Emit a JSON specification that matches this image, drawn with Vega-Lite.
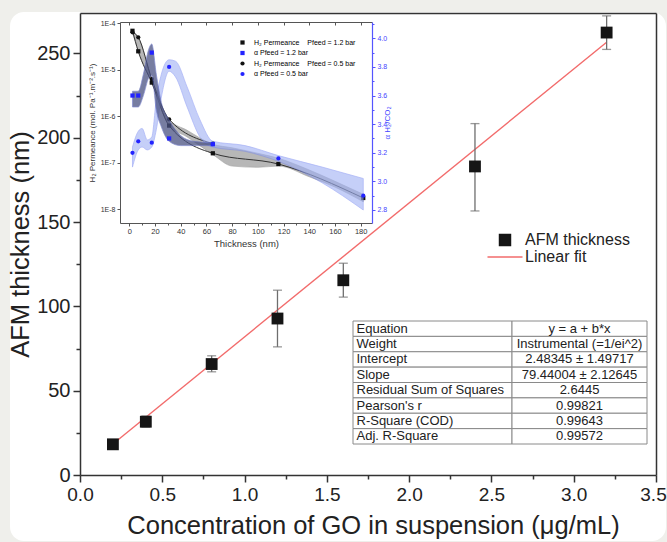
{
  "$schema": "https://vega.github.io/schema/vega-lite/v6.json",
  "width": 576,
  "height": 462,
  "autosize": {"type": "none"},
  "padding": {"left": 80, "top": 13, "right": 11, "bottom": 67},
  "background": "#efefeb",
  "config": {
    "view": {"stroke": null},
    "font": "Liberation Sans",
    "axis": {"zindex": 1, "grid": false, "domainColor": "#333", "tickColor": "#333", "labelColor": "#222", "titleColor": "#222", "titleFontWeight": "normal", "labelFont": "Liberation Sans", "titleFont": "Liberation Sans", "labelOverlap": false, "labelFlush": false}
  },
  "datasets": {
    "afm": [
      {"c": 0.2, "t": 18.2, "lo": 17.0, "hi": 19.4},
      {"c": 0.4, "t": 31.6, "lo": 28.4, "hi": 35.0},
      {"c": 0.8, "t": 65.8, "lo": 61.2, "hi": 70.7},
      {"c": 1.2, "t": 92.8, "lo": 76.0, "hi": 109.6},
      {"c": 1.6, "t": 115.5, "lo": 105.5, "hi": 125.6},
      {"c": 2.4, "t": 183.0, "lo": 156.6, "hi": 208.4},
      {"c": 3.2, "t": 262.4, "lo": 252.4, "hi": 272.3}
    ],
    "fit": [{"c": 0.2, "y": 18.37}, {"c": 3.2, "y": 256.69}],
    "tbl": [
      {"row": 1, "label": "Equation", "value": "y = a + b*x"},
      {"row": 2, "label": "Weight", "value": "Instrumental (=1/ei^2)"},
      {"row": 3, "label": "Intercept", "value": "2.48345 ± 1.49717"},
      {"row": 4, "label": "Slope", "value": "79.44004 ± 2.12645"},
      {"row": 5, "label": "Residual Sum of Squares", "value": "2.6445"},
      {"row": 6, "label": "Pearson's r", "value": "0.99821"},
      {"row": 7, "label": "R-Square (COD)", "value": "0.99643"},
      {"row": 8, "label": "Adj. R-Square", "value": "0.99572"}
    ],
    "perm": [
      {"t": 2.5, "p": 6.9e-5, "s": "H₂ Permeance\u00a0\u00a0\u00a0\u00a0Pfeed = 1.2 bar"},
      {"t": 7, "p": 2.5e-5, "s": "H₂ Permeance\u00a0\u00a0\u00a0\u00a0Pfeed = 1.2 bar"},
      {"t": 17.5, "p": 5.3e-6, "s": "H₂ Permeance\u00a0\u00a0\u00a0\u00a0Pfeed = 1.2 bar"},
      {"t": 31, "p": 6.3e-7, "s": "H₂ Permeance\u00a0\u00a0\u00a0\u00a0Pfeed = 1.2 bar"},
      {"t": 65, "p": 1.6e-7, "s": "H₂ Permeance\u00a0\u00a0\u00a0\u00a0Pfeed = 1.2 bar"},
      {"t": 116, "p": 9.4e-8, "s": "H₂ Permeance\u00a0\u00a0\u00a0\u00a0Pfeed = 1.2 bar"},
      {"t": 182, "p": 1.75e-8, "s": "H₂ Permeance\u00a0\u00a0\u00a0\u00a0Pfeed = 1.2 bar"},
      {"t": 2.5, "p": 6.4e-5, "s": "H₂ Permeance\u00a0\u00a0\u00a0\u00a0Pfeed = 0.5 bar"},
      {"t": 7, "p": 5.0e-5, "s": "H₂ Permeance\u00a0\u00a0\u00a0\u00a0Pfeed = 0.5 bar"},
      {"t": 17.5, "p": 6.3e-6, "s": "H₂ Permeance\u00a0\u00a0\u00a0\u00a0Pfeed = 0.5 bar"},
      {"t": 31, "p": 8.6e-7, "s": "H₂ Permeance\u00a0\u00a0\u00a0\u00a0Pfeed = 0.5 bar"},
      {"t": 65, "p": 2.6e-7, "s": "H₂ Permeance\u00a0\u00a0\u00a0\u00a0Pfeed = 0.5 bar"}
    ],
    "pband": [
      {"t": 2.5, "lo": 6.4e-5, "hi": 6.9e-5},
      {"t": 7, "lo": 2.5e-5, "hi": 5.0e-5},
      {"t": 17.5, "lo": 5.3e-6, "hi": 6.3e-6},
      {"t": 31, "lo": 6.3e-7, "hi": 8.6e-7},
      {"t": 45, "lo": 3.6e-7, "hi": 5.0e-7},
      {"t": 65, "lo": 1.5e-7, "hi": 2.5e-7},
      {"t": 80, "lo": 8.5e-8, "hi": 2.1e-7},
      {"t": 100, "lo": 8.0e-8, "hi": 1.6e-7},
      {"t": 116, "lo": 8.5e-8, "hi": 1.25e-7},
      {"t": 140, "lo": 5.0e-8, "hi": 7.0e-8},
      {"t": 160, "lo": 3.0e-8, "hi": 4.0e-8},
      {"t": 182, "lo": 1.45e-8, "hi": 2.1e-8}
    ],
    "aband": [
      {"t": 2.5, "lo": 3.52, "hi": 3.63, "b": "1.2"},
      {"t": 7, "lo": 3.52, "hi": 3.63, "b": "1.2"},
      {"t": 11, "lo": 3.60, "hi": 3.75, "b": "1.2"},
      {"t": 15, "lo": 3.72, "hi": 3.92, "b": "1.2"},
      {"t": 17.5, "lo": 3.74, "hi": 3.96, "b": "1.2"},
      {"t": 21, "lo": 3.50, "hi": 3.75, "b": "1.2"},
      {"t": 25, "lo": 3.38, "hi": 3.55, "b": "1.2"},
      {"t": 31, "lo": 3.28, "hi": 3.43, "b": "1.2"},
      {"t": 40, "lo": 3.25, "hi": 3.32, "b": "1.2"},
      {"t": 50, "lo": 3.25, "hi": 3.28, "b": "1.2"},
      {"t": 65, "lo": 3.25, "hi": 3.27, "b": "1.2"},
      {"t": 2.5, "lo": 3.10, "hi": 3.24, "b": "0.5"},
      {"t": 7, "lo": 3.22, "hi": 3.35, "b": "0.5"},
      {"t": 10, "lo": 3.24, "hi": 3.37, "b": "0.5"},
      {"t": 14, "lo": 3.22, "hi": 3.29, "b": "0.5"},
      {"t": 17.5, "lo": 3.24, "hi": 3.31, "b": "0.5"},
      {"t": 21, "lo": 3.36, "hi": 3.57, "b": "0.5"},
      {"t": 25, "lo": 3.59, "hi": 3.75, "b": "0.5"},
      {"t": 31, "lo": 3.77, "hi": 3.85, "b": "0.5"},
      {"t": 36, "lo": 3.73, "hi": 3.84, "b": "0.5"},
      {"t": 45, "lo": 3.52, "hi": 3.66, "b": "0.5"},
      {"t": 55, "lo": 3.31, "hi": 3.43, "b": "0.5"},
      {"t": 65, "lo": 3.24, "hi": 3.28, "b": "0.5"},
      {"t": 90, "lo": 3.21, "hi": 3.25, "b": "0.5"},
      {"t": 116, "lo": 3.14, "hi": 3.18, "b": "0.5"},
      {"t": 150, "lo": 2.99, "hi": 3.10, "b": "0.5"},
      {"t": 182, "lo": 2.80, "hi": 3.02, "b": "0.5"}
    ],
    "alpha": [
      {"t": 2.5, "a": 3.60, "s": "α Pfeed = 1.2 bar"},
      {"t": 7, "a": 3.60, "s": "α Pfeed = 1.2 bar"},
      {"t": 17.5, "a": 3.90, "s": "α Pfeed = 1.2 bar"},
      {"t": 31, "a": 3.30, "s": "α Pfeed = 1.2 bar"},
      {"t": 65, "a": 3.26, "s": "α Pfeed = 1.2 bar"},
      {"t": 2.5, "a": 3.20, "s": "α Pfeed = 0.5 bar"},
      {"t": 7, "a": 3.28, "s": "α Pfeed = 0.5 bar"},
      {"t": 17.5, "a": 3.27, "s": "α Pfeed = 0.5 bar"},
      {"t": 31, "a": 3.80, "s": "α Pfeed = 0.5 bar"},
      {"t": 65, "a": 3.26, "s": "α Pfeed = 0.5 bar"},
      {"t": 116, "a": 3.16, "s": "α Pfeed = 0.5 bar"},
      {"t": 182, "a": 2.90, "s": "α Pfeed = 0.5 bar"}
    ]
  },
  "resolve": {"scale": {"x": "independent", "y": "independent", "color": "independent", "shape": "independent"}},
  "layer": [
    {
      "data": {"values": [{}]},
      "mark": {"type": "rect", "fill": "white", "cornerRadius": 14},
      "encoding": {
        "x": {"datum": 0, "type": "quantitative", "scale": {"domain": [0, 1], "range": [-70, 586], "nice": false, "zero": false}, "axis": null},
        "x2": {"datum": 1},
        "y": {"datum": 0, "type": "quantitative", "scale": {"domain": [0, 1], "range": [-1, 528], "nice": false, "zero": false}, "axis": null},
        "y2": {"datum": 1}
      }
    },
    {
      "data": {"name": "afm"},
      "mark": {"type": "point", "opacity": 0},
      "encoding": {
        "x": {"field": "c", "type": "quantitative", "scale": {"domain": [0, 3.5], "nice": false, "zero": false},
              "axis": {"orient": "top", "zindex": 2, "ticks": false, "labels": false, "domainWidth": 1.5, "domainColor": "#333", "title": null}},
        "y": {"field": "t", "type": "quantitative", "scale": {"domain": [0, 274], "nice": false, "zero": false},
              "axis": {"orient": "right", "zindex": 2, "ticks": false, "labels": false, "domainWidth": 1.5, "domainColor": "#333", "title": null}}
      }
    },
    {
      "data": {"name": "afm"},
      "mark": {"type": "point", "opacity": 0},
      "encoding": {
        "x": {"field": "c", "type": "quantitative", "scale": {"domain": [0, 3.5], "nice": false, "zero": false},
              "axis": {"orient": "bottom", "zindex": 2, "values": [0.25, 0.75, 1.25, 1.75, 2.25, 2.75, 3.25], "labels": false, "domain": false, "tickSize": 4, "tickWidth": 1.5, "title": null}},
        "y": {"field": "t", "type": "quantitative", "scale": {"domain": [0, 274], "nice": false, "zero": false},
              "axis": {"orient": "left", "zindex": 2, "values": [25, 75, 125, 175, 225], "labels": false, "domain": false, "tickSize": 4, "tickWidth": 1.5, "title": null}}
      }
    },
    {
      "layer": [
        {
          "data": {"name": "fit"},
          "mark": {"type": "line", "strokeWidth": 1.4},
          "encoding": {
            "x": {"field": "c", "type": "quantitative", "scale": {"domain": [0, 3.5], "nice": false, "zero": false}, "title": "Concentration of GO in suspension (μg/mL)"},
            "y": {"field": "y", "type": "quantitative", "scale": {"domain": [0, 274], "nice": false, "zero": false}, "title": "AFM thickness (nm)"},
            "color": {"datum": "Linear fit", "type": "nominal", "scale": {"domain": ["AFM thickness", "Linear fit"], "range": ["#151515", "#f26b6b"]},
                      "legend": {"orient": "none", "legendX": 417, "legendY": 219, "title": null, "padding": 0, "labelFontSize": 16, "labelColor": "#222", "labelOffset": 4, "rowPadding": 0, "symbolSize": 1225, "symbolType": "square",
                                 "encode": {"symbols": {"update": {
                                   "shape": {"signal": "datum.value === 'Linear fit' ? 'stroke' : 'square'"},
                                   "size": {"signal": "datum.value === 'Linear fit' ? 1225 : 120"},
                                   "fill": {"signal": "datum.value === 'Linear fit' ? 'transparent' : '#151515'"},
                                   "stroke": {"signal": "datum.value === 'Linear fit' ? '#f26b6b' : 'transparent'"},
                                   "strokeWidth": {"value": 1.5},
                                   "opacity": {"value": 1}
                                 }}, "labels": {"update": {"dx": {"value": 8}}}}}}
          }
        },
        {
          "data": {"name": "afm"},
          "mark": {"type": "errorbar", "ticks": {"size": 9}, "color": "#6e6e6e", "thickness": 1.3},
          "encoding": {
            "x": {"field": "c", "type": "quantitative", "scale": {"domain": [0, 3.5], "nice": false, "zero": false}, "title": "Concentration of GO in suspension (μg/mL)"},
            "y": {"field": "lo", "type": "quantitative", "scale": {"domain": [0, 274], "nice": false, "zero": false}, "title": "AFM thickness (nm)"},
            "y2": {"field": "hi"}
          }
        },
        {
          "data": {"name": "afm"},
          "mark": {"type": "point", "shape": "square", "filled": true, "size": 140, "opacity": 1},
          "encoding": {
            "x": {"field": "c", "type": "quantitative", "scale": {"domain": [0, 3.5], "nice": false, "zero": false}, "title": "Concentration of GO in suspension (μg/mL)",
                  "axis": {"orient": "bottom", "zindex": 2, "values": [0, 0.5, 1, 1.5, 2, 2.5, 3, 3.5], "format": ".1f", "labelFontSize": 19, "labelOffset": {"condition": {"test": "datum.value >= 3.5", "value": -3}, "value": 0}, "tickSize": 7, "tickWidth": 1.5, "domainWidth": 1.5, "labelPadding": 3, "titleFontSize": 25.5, "titlePadding": 9, "titleX": 293}},
            "y": {"field": "t", "type": "quantitative", "scale": {"domain": [0, 274], "nice": false, "zero": false}, "title": "AFM thickness (nm)",
                  "axis": {"orient": "left", "zindex": 2, "values": [0, 50, 100, 150, 200, 250], "labelFontSize": 20, "tickSize": 7, "tickWidth": 1.5, "domainWidth": 1.5, "labelPadding": 3, "titleFontSize": 25.5, "titlePadding": 3}},
            "color": {"datum": "AFM thickness", "type": "nominal", "scale": {"domain": ["AFM thickness", "Linear fit"], "range": ["#151515", "#f26b6b"]},
                      "legend": {"orient": "none", "legendX": 417, "legendY": 219, "title": null, "padding": 0, "labelFontSize": 16, "labelColor": "#222", "labelOffset": 4, "rowPadding": 0, "symbolSize": 1225, "symbolType": "square",
                                 "encode": {"symbols": {"update": {
                                   "shape": {"signal": "datum.value === 'Linear fit' ? 'stroke' : 'square'"},
                                   "size": {"signal": "datum.value === 'Linear fit' ? 1225 : 120"},
                                   "fill": {"signal": "datum.value === 'Linear fit' ? 'transparent' : '#151515'"},
                                   "stroke": {"signal": "datum.value === 'Linear fit' ? '#f26b6b' : 'transparent'"},
                                   "strokeWidth": {"value": 1.5},
                                   "opacity": {"value": 1}
                                 }}, "labels": {"update": {"dx": {"value": 8}}}}}}
          }
        }
      ]
    },
    {
      "data": {"name": "tbl"},
      "encoding": {"y": {"field": "row", "type": "ordinal", "scale": {"range": [308, 431], "paddingInner": 0, "paddingOuter": 0}, "axis": null}},
      "resolve": {"scale": {"x": "independent"}},
      "layer": [
        {"mark": {"type": "rect", "fill": "white", "stroke": "#8a8a8a", "strokeWidth": 1},
         "encoding": {"x": {"datum": "L", "type": "nominal", "scale": {"domain": ["L"], "range": [273, 432], "paddingInner": 0, "paddingOuter": 0}, "axis": null}}},
        {"mark": {"type": "rect", "fill": "white", "stroke": "#8a8a8a", "strokeWidth": 1},
         "encoding": {"x": {"datum": "R", "type": "nominal", "scale": {"domain": ["R"], "range": [432, 567], "paddingInner": 0, "paddingOuter": 0}, "axis": null}}},
        {"mark": {"type": "text", "align": "left", "baseline": "middle", "dx": -76, "fontSize": 13, "color": "#222"},
         "encoding": {"x": {"datum": "L", "type": "nominal", "scale": {"domain": ["L"], "range": [273, 432], "paddingInner": 0, "paddingOuter": 0}, "axis": null}, "text": {"field": "label"}}},
        {"mark": {"type": "text", "align": "center", "baseline": "middle", "fontSize": 13, "color": "#222"},
         "encoding": {"x": {"datum": "R", "type": "nominal", "scale": {"domain": ["R"], "range": [432, 567], "paddingInner": 0, "paddingOuter": 0}, "axis": null}, "text": {"field": "value"}}}
      ]
    },
    {
      "data": {"name": "perm"},
      "mark": {"type": "point", "opacity": 0},
      "encoding": {
        "x": {"field": "t", "type": "quantitative", "scale": {"domain": [-7.2, 188.8], "range": [40, 292], "nice": false, "zero": false},
              "axis": {"orient": "top", "zindex": 2, "offset": -9, "values": [0, 20, 40, 60, 80, 100, 120, 140, 160, 180], "labels": false, "tickSize": -3, "domainColor": "#555", "tickColor": "#555", "domainWidth": 1, "title": null}}
      }
    },
    {
      "data": {"name": "alpha"},
      "mark": {"type": "point", "opacity": 0},
      "encoding": {
        "x": {"field": "t", "type": "quantitative", "scale": {"domain": [-7.2, 188.8], "range": [40, 292], "nice": false, "zero": false},
              "axis": {"orient": "bottom", "zindex": 2, "offset": -252, "values": [10, 30, 50, 70, 90, 110, 130, 150, 170], "labels": false, "domain": false, "tickSize": 2, "tickColor": "#555", "title": null}},
        "y": {"field": "a", "type": "quantitative", "scale": {"domain": [2.709, 4.114], "range": [210, 9], "nice": false, "zero": false},
              "axis": {"orient": "right", "zindex": 2, "offset": -284, "values": [2.9, 3.1, 3.3, 3.5, 3.7, 3.9, 4.1], "labels": false, "domain": false, "tickSize": 2, "tickColor": "#5555ff", "title": null}}
      }
    },
    {
      "resolve": {"scale": {"y": "independent"}},
      "layer": [
        {
          "layer": [
            {
              "data": {"name": "pband"},
              "mark": {"type": "area", "interpolate": "monotone", "color": "#7d7d7d", "opacity": 0.55, "stroke": "#555", "strokeWidth": 0.6},
              "encoding": {
                "x": {"field": "t", "type": "quantitative", "scale": {"domain": [-7.2, 188.8], "range": [40, 292], "nice": false, "zero": false}, "title": "Thickness (nm)"},
                "y": {"field": "lo", "type": "quantitative", "scale": {"type": "log", "domain": [5.07e-9, 1.066e-4], "range": [210, 9], "nice": false}, "title": "H₂ Permeance (mol. Pa⁻¹.m⁻².s⁻¹)"},
                "y2": {"field": "hi"}
              }
            },
            {
              "data": {"name": "perm"},
              "mark": {"type": "line", "interpolate": "monotone", "color": "#333", "strokeWidth": 1},
              "encoding": {
                "x": {"field": "t", "type": "quantitative", "scale": {"domain": [-7.2, 188.8], "range": [40, 292], "nice": false, "zero": false}, "title": "Thickness (nm)"},
                "y": {"field": "p", "type": "quantitative", "scale": {"type": "log", "domain": [5.07e-9, 1.066e-4], "range": [210, 9], "nice": false}, "title": "H₂ Permeance (mol. Pa⁻¹.m⁻².s⁻¹)"},
                "detail": {"field": "s"}
              }
            },
            {
              "data": {"name": "perm"},
              "mark": {"type": "point", "filled": true, "size": 18, "opacity": 1},
              "encoding": {
                "x": {"field": "t", "type": "quantitative", "scale": {"domain": [-7.2, 188.8], "range": [40, 292], "nice": false, "zero": false}, "title": "Thickness (nm)",
                      "axis": {"orient": "bottom", "zindex": 2, "offset": -252, "values": [0, 20, 40, 60, 80, 100, 120, 140, 160, 180], "labelFontSize": 7.5, "tickSize": 3, "labelPadding": 1, "titleFontSize": 9.5, "titlePadding": 4, "domainColor": "#555", "tickColor": "#555", "domainWidth": 1, "labelColor": "#333", "titleColor": "#333"}},
                "y": {"field": "p", "type": "quantitative", "scale": {"type": "log", "domain": [5.07e-9, 1.066e-4], "range": [210, 9], "nice": false}, "title": "H₂ Permeance (mol. Pa⁻¹.m⁻².s⁻¹)",
                      "axis": {"orient": "left", "zindex": 2, "offset": -40, "values": [1e-8, 1e-7, 1e-6, 1e-5, 1e-4], "labelExpr": "'1E-' + round(-log(datum.value)/LN10)", "labelFontSize": 7, "tickSize": 3, "labelPadding": 2, "titleFontSize": 8, "titlePadding": 4, "domainColor": "#555", "tickColor": "#555", "domainWidth": 1, "labelColor": "#333", "titleColor": "#333"}},
                "color": {"field": "s", "type": "nominal",
                          "scale": {"domain": ["H₂ Permeance\u00a0\u00a0\u00a0\u00a0Pfeed = 1.2 bar", "α Pfeed = 1.2 bar", "H₂ Permeance\u00a0\u00a0\u00a0\u00a0Pfeed = 0.5 bar", "α Pfeed = 0.5 bar"], "range": ["#111111", "#2323ff", "#111111", "#2323ff"]},
                          "legend": {"orient": "none", "legendX": 159, "legendY": 26, "title": null, "padding": 0, "labelFontSize": 7, "labelOffset": 8, "rowPadding": 2.5, "symbolSize": 18,
                                     "encode": {"labels": {"update": {"fill": {"signal": "indexof(datum.label, 'α') >= 0 ? '#2323ff' : '#222'"}}}}}},
                "shape": {"field": "s", "type": "nominal",
                          "scale": {"domain": ["H₂ Permeance\u00a0\u00a0\u00a0\u00a0Pfeed = 1.2 bar", "α Pfeed = 1.2 bar", "H₂ Permeance\u00a0\u00a0\u00a0\u00a0Pfeed = 0.5 bar", "α Pfeed = 0.5 bar"], "range": ["square", "square", "circle", "circle"]}}
              }
            }
          ]
        },
        {
          "layer": [
            {
              "data": {"name": "aband"},
              "transform": [{"filter": "datum.b === '0.5'"}],
              "mark": {"type": "area", "interpolate": "monotone", "color": "#9fb0f5", "opacity": 0.6, "stroke": "#6f80f0", "strokeWidth": 0.7},
              "encoding": {
                "x": {"field": "t", "type": "quantitative", "scale": {"domain": [-7.2, 188.8], "range": [40, 292], "nice": false, "zero": false}, "title": "Thickness (nm)"},
                "y": {"field": "lo", "type": "quantitative", "scale": {"domain": [2.709, 4.114], "range": [210, 9], "nice": false, "zero": false}, "title": "α H₂/CO₂"},
                "y2": {"field": "hi"}
              }
            },
            {
              "data": {"name": "aband"},
              "transform": [{"filter": "datum.b === '1.2'"}],
              "mark": {"type": "area", "interpolate": "monotone", "color": "#4a5282", "opacity": 0.75, "stroke": "#5a66c0", "strokeWidth": 0.7},
              "encoding": {
                "x": {"field": "t", "type": "quantitative", "scale": {"domain": [-7.2, 188.8], "range": [40, 292], "nice": false, "zero": false}, "title": "Thickness (nm)"},
                "y": {"field": "lo", "type": "quantitative", "scale": {"domain": [2.709, 4.114], "range": [210, 9], "nice": false, "zero": false}, "title": "α H₂/CO₂"},
                "y2": {"field": "hi"}
              }
            },
            {
              "data": {"name": "alpha"},
              "mark": {"type": "point", "filled": true, "size": 18, "opacity": 1},
              "encoding": {
                "x": {"field": "t", "type": "quantitative", "scale": {"domain": [-7.2, 188.8], "range": [40, 292], "nice": false, "zero": false}, "title": "Thickness (nm)"},
                "y": {"field": "a", "type": "quantitative", "scale": {"domain": [2.709, 4.114], "range": [210, 9], "nice": false, "zero": false}, "title": "α H₂/CO₂",
                      "axis": {"orient": "right", "zindex": 2, "offset": -284, "values": [2.8, 3.0, 3.2, 3.4, 3.6, 3.8, 4.0], "format": ".1f", "labelFontSize": 7, "tickSize": 3, "labelPadding": 2, "titleFontSize": 8, "titlePadding": 5, "titleAngle": 270, "domainColor": "#5555ff", "tickColor": "#5555ff", "labelColor": "#4444ff", "titleColor": "#4444ff", "domainWidth": 1.2}},
                "color": {"field": "s", "type": "nominal",
                          "scale": {"domain": ["H₂ Permeance\u00a0\u00a0\u00a0\u00a0Pfeed = 1.2 bar", "α Pfeed = 1.2 bar", "H₂ Permeance\u00a0\u00a0\u00a0\u00a0Pfeed = 0.5 bar", "α Pfeed = 0.5 bar"], "range": ["#111111", "#2323ff", "#111111", "#2323ff"]}},
                "shape": {"field": "s", "type": "nominal",
                          "scale": {"domain": ["H₂ Permeance\u00a0\u00a0\u00a0\u00a0Pfeed = 1.2 bar", "α Pfeed = 1.2 bar", "H₂ Permeance\u00a0\u00a0\u00a0\u00a0Pfeed = 0.5 bar", "α Pfeed = 0.5 bar"], "range": ["square", "square", "circle", "circle"]}}
              }
            }
          ]
        }
      ]
    }
  ]
}
